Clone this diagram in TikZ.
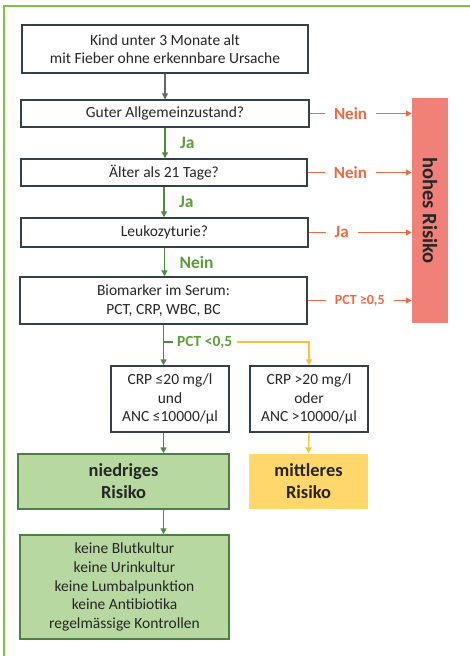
\documentclass[tikz,border=0pt]{standalone}
\usepackage{fontspec}
\setmainfont{Carlito}
\usepackage{tikz}
\usetikzlibrary{arrows.meta,positioning,calc}
\definecolor{framegreen}{HTML}{7DC243}
\definecolor{boxline}{HTML}{34404C}
\definecolor{textdark}{HTML}{262626}
\definecolor{riskred}{HTML}{F08078}
\definecolor{linered}{HTML}{EC6A46}
\definecolor{okgreen}{HTML}{4E8C3E}
\definecolor{labelgreen}{HTML}{5C9E3A}
\definecolor{lowfill}{HTML}{B8D8A2}
\definecolor{lowline}{HTML}{4F7F45}
\definecolor{midfill}{HTML}{FFD76A}
\definecolor{midline}{HTML}{F9C23C}

\begin{document}
\begin{tikzpicture}[x=1pt,y=-1pt,
  box/.style={draw=boxline,line width=1.4pt,fill=white,align=center,inner sep=0pt,
    text=textdark,font=\fontsize{15.5}{18.5}\selectfont},
  lowbox/.style={box,draw=lowline,fill=lowfill,font=\fontsize{18.4}{22}\selectfont\bfseries},
  midbox/.style={lowbox,draw=none,fill=midfill},
  listbox/.style={box,draw=lowline,fill=lowfill,font=\fontsize{15.5}{18.7}\selectfont},
  highbar/.style={fill=riskred,inner sep=0pt,text=textdark,font=\fontsize{20.5}{24}\selectfont\bfseries},
  tip/.style={-{Triangle[length=6pt,width=6pt]}},
  grayarr/.style={tip,draw=gray!80!black,line width=1.3pt},
  garr/.style={tip,draw=okgreen,line width=1.4pt},
  gline/.style={draw=okgreen,line width=1.4pt},
  yarr/.style={tip,draw=midline,line width=1.4pt},
  rarr/.style={tip,draw=linered,line width=1.4pt},
  glabel/.style={text=labelgreen,font=\fontsize{17.5}{20}\selectfont\bfseries,anchor=west,xshift=11},
  rlabel/.style={text=linered,fill=white,inner xsep=9pt,font=\fontsize{17}{20}\selectfont\bfseries}]
  \useasboundingbox (0,0) rectangle (470,656);

  % frame
  \draw[framegreen,line width=1.6pt] (4,656) -- (4,6) -- (470,6);

  % questions
  \node[box,minimum width=286,minimum height=48] (start) at (165,49)
    {Kind unter 3 Monate alt\\mit Fieber ohne erkennbare Ursache};
  \node[box,minimum width=288,minimum height=27] (allg) at (165,113.5) {Guter Allgemeinzustand?};
  \node[box,minimum width=286,minimum height=27] (alter) at (164,172.5) {Älter als 21 Tage?};
  \node[box,minimum width=287,minimum height=29] (leuko) at (164.5,232.5) {Leukozyturie?};
  \node[box,minimum width=287,minimum height=47] (bio) at (163.5,300.5)
    {Biomarker im Serum:\\PCT, CRP, WBC, BC};

  % risk boxes
  \node[highbar,rotate=-90,minimum width=225,minimum height=36] (high) at (430,210.5) {hohes Risiko};
  \node[box,minimum width=118,minimum height=66] (crplow) at (170,399)
    {CRP ≤20 mg/l\\und\\ANC ≤10000/µl};
  \node[box,minimum width=118,minimum height=66] (crphigh) at (309,399)
    {CRP >20 mg/l\\oder\\ANC >10000/µl};
  \node[lowbox,minimum width=211,minimum height=55] (low) at (123.5,481.5) {niedriges\\Risiko};
  \node[midbox,minimum width=119,minimum height=55] (mid) at (308.5,481.5) {mittleres\\Risiko};
  \node[listbox,minimum width=209,minimum height=104] (todo) at (124.5,587)
    {keine Blutkultur\\keine Urinkultur\\keine Lumbalpunktion\\keine Antibiotika\\regelmässige Kontrollen};

  % main column
  \draw[grayarr] (start.south) -- (allg.north);
  \draw[garr] (allg.south) -- node[glabel] {Ja} (allg.south |- alter.north);
  \draw[garr] (alter.south) -- node[glabel] {Ja} (alter.south |- leuko.north);
  \draw[garr] (leuko.south) -- node[glabel] {Nein} (leuko.south |- bio.north);

  % to high risk
  \draw[rarr] (allg.east) -- node[rlabel,pos=0.4] {Nein} (allg.east -| high.south);
  \draw[rarr] (alter.east) -- node[rlabel,pos=0.41] {Nein} (alter.east -| high.south);
  \draw[rarr] (leuko.east) -- node[rlabel,pos=0.32] {Ja} (leuko.east -| high.south);
  \draw[rarr] (bio.east) -- node[rlabel,pos=0.5,font=\fontsize{14}{16}\selectfont\bfseries] {PCT ≥0,5} (bio.east -| high.south);

  % PCT split
  \coordinate (split) at (bio.south |- 0,342);
  \node[text=labelgreen,font=\fontsize{15.5}{18}\selectfont\bfseries,anchor=west,inner sep=4pt] (pct) at (173,342) {PCT <0,5};
  \draw[garr] (bio.south) -- (bio.south |- crplow.north);
  \draw[gline] (split) -- (pct.west);
  \draw[yarr] (pct.east) -- (pct.east -| crphigh.north) -- (crphigh.north);

  \draw[garr] (crplow.south -| split) -- (low.north -| split);
  \draw[yarr] (crphigh.south) -- (mid.north);
  \draw[garr] (low.south -| split) -- (todo.north -| split);
\end{tikzpicture}
\end{document}
